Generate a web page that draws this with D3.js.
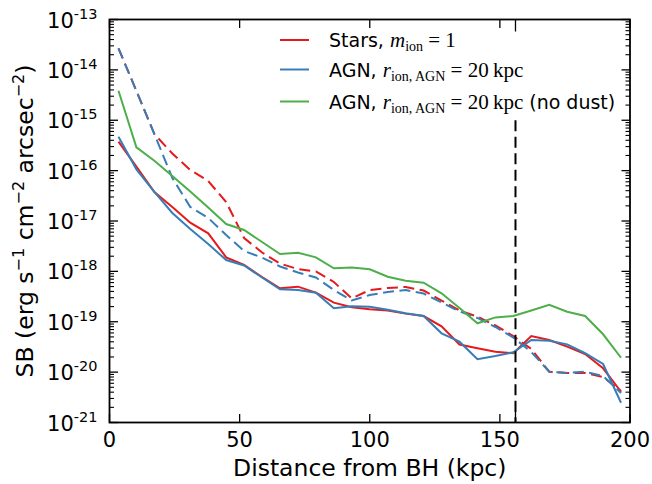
<!DOCTYPE html>
<html><head><meta charset="utf-8">
<script src="https://cdn.jsdelivr.net/npm/d3@7"></script>
<style>
html,body{margin:0;padding:0;background:#fff;}
svg text{font-family:"DejaVu Sans",sans-serif;fill:#000;}
.math{font-family:"Liberation Serif",serif;}
</style></head>
<body><svg id="chart" width="652" height="484"></svg>
<script>
// Distance from BH (kpc), bin centres
const distance = [3.45,10.34,17.24,24.14,31.03,37.93,44.83,51.72,58.62,65.52,72.41,79.31,86.21,93.10,100.00,106.90,113.79,120.69,127.59,134.48,141.38,148.28,155.17,162.07,168.97,175.86,182.76,189.66,196.55];
// SB (erg s^-1 cm^-2 arcsec^-2)
const starsSolid = [3.75e-16,1.20e-16,3.77e-17,1.90e-17,9.25e-18,5.70e-18,1.90e-18,1.34e-18,7.73e-19,4.61e-19,4.97e-19,3.78e-19,2.39e-19,1.94e-19,1.77e-19,1.67e-19,1.45e-19,1.30e-19,8.13e-20,3.53e-20,2.97e-20,2.54e-20,2.37e-20,5.21e-20,4.35e-20,3.20e-20,2.29e-20,1.19e-20,4.08e-21];
const starsDashed = [2.68e-14,3.81e-15,5.33e-16,2.19e-16,1.03e-16,6.22e-17,2.38e-17,4.60e-18,2.37e-18,1.43e-18,1.11e-18,9.95e-19,6.15e-19,2.90e-19,4.27e-19,4.68e-19,4.90e-19,4.17e-19,2.64e-19,1.67e-19,1.26e-19,8.43e-20,5.21e-20,2.88e-20,1.02e-20,9.62e-21,9.62e-21,8.00e-21,4.22e-21];
const agnSolid = [4.71e-16,1.06e-16,3.77e-17,1.44e-17,6.93e-18,3.49e-18,1.68e-18,1.31e-18,7.55e-19,4.41e-19,4.27e-19,3.78e-19,1.85e-19,2.03e-19,1.99e-19,1.73e-19,1.47e-19,1.30e-19,5.90e-20,4.02e-20,1.80e-20,2.09e-20,2.48e-20,4.35e-20,4.21e-20,3.56e-20,2.37e-20,1.45e-20,2.47e-21];
const agnDashed = [2.68e-14,3.81e-15,5.33e-16,7.14e-17,1.90e-17,1.15e-17,5.27e-18,2.54e-18,1.88e-18,1.25e-18,9.51e-19,7.55e-19,4.27e-19,2.64e-19,3.40e-19,3.90e-19,4.27e-19,3.64e-19,2.41e-19,1.60e-19,1.19e-19,7.87e-20,4.86e-20,2.51e-20,1.02e-20,9.62e-21,1.02e-20,8.38e-21,3.85e-21];
const agnNoDust = [3.86e-15,2.90e-16,1.57e-16,7.82e-17,3.85e-17,1.85e-17,8.71e-18,6.62e-18,3.83e-18,2.21e-18,2.35e-18,1.90e-18,1.15e-18,1.20e-18,1.10e-18,7.83e-19,6.53e-19,5.96e-19,3.67e-19,1.87e-19,9.31e-20,1.22e-19,1.30e-19,1.67e-19,2.18e-19,1.58e-19,1.30e-19,5.64e-20,1.93e-20];

const xTicks = [0,50,100,150,200];
const xTickLabels = ["0","50","100","150","200"];
const yExponents = [-13,-14,-15,-16,-17,-18,-19,-20,-21];
const markerDistance = 156;
const markerTop = 1e-15;

const colors = {red:"#e41a1c", blue:"#377eb8", green:"#4daf4a"};

const svg = d3.select("#chart");
const L = 109.5, R = 630, T = 19.5, B = 422.5;
const x = d3.scaleLinear().domain([0,200]).range([L,R]);
const y = d3.scaleLog().domain([1e-21,1e-13]).range([B,T]);

const line = d3.line().x((d,i)=>x(distance[i])).y(d=>y(d));
const dash = "11,5.5";
const series = [
  {data: starsSolid, color: colors.red, dash: null},
  {data: starsDashed, color: colors.red, dash: dash},
  {data: agnSolid, color: colors.blue, dash: null},
  {data: agnDashed, color: colors.blue, dash: dash},
  {data: agnNoDust, color: colors.green, dash: null}
];
const g = svg.append("g");
series.forEach(s => {
  g.append("path").attr("d", line(s.data)).attr("fill","none")
   .attr("stroke", s.color).attr("stroke-width", 2)
   .attr("stroke-dasharray", s.dash);
});
// vertical marker
g.append("line").attr("x1", x(markerDistance)).attr("x2", x(markerDistance))
 .attr("y1", y(markerTop)).attr("y2", B)
 .attr("stroke","#000").attr("stroke-width",2).attr("stroke-dasharray","11,5.5");

// axes frame and ticks
const ax = svg.append("g");
const tickStroke = 1.3;
// x ticks bottom & top (inward)
xTicks.forEach(v => {
  ax.append("line").attr("x1",x(v)).attr("x2",x(v)).attr("y1",B).attr("y2",B-8.5).attr("stroke","#000").attr("stroke-width",tickStroke);
  ax.append("line").attr("x1",x(v)).attr("x2",x(v)).attr("y1",T).attr("y2",T+8.5).attr("stroke","#000").attr("stroke-width",tickStroke);
});
ax.append("line").attr("x1",x(markerDistance)).attr("x2",x(markerDistance)).attr("y1",B).attr("y2",B-12).attr("stroke","#000").attr("stroke-width",tickStroke);
ax.append("line").attr("x1",x(markerDistance)).attr("x2",x(markerDistance)).attr("y1",T).attr("y2",T+12).attr("stroke","#000").attr("stroke-width",tickStroke);
// y ticks
yExponents.forEach(e => {
  const v = Math.pow(10,e);
  const yy = y(v);
  ax.append("line").attr("x1",L).attr("x2",L+8.5).attr("y1",yy).attr("y2",yy).attr("stroke","#000").attr("stroke-width",tickStroke);
  ax.append("line").attr("x1",R).attr("x2",R-8.5).attr("y1",yy).attr("y2",yy).attr("stroke","#000").attr("stroke-width",tickStroke);
  if (e > -21) {
    for (let m=2; m<=9; m++) {
      const ym = y(m*v/10* (e>-21?1:1));
    }
  }
});
// minor ticks
for (let e=-21; e<-13; e++) {
  for (let m=2;m<=9;m++) {
    const yy = y(m*Math.pow(10,e));
    ax.append("line").attr("x1",L).attr("x2",L+4.5).attr("y1",yy).attr("y2",yy).attr("stroke","#000").attr("stroke-width",1.1);
    ax.append("line").attr("x1",R).attr("x2",R-4.5).attr("y1",yy).attr("y2",yy).attr("stroke","#000").attr("stroke-width",1.1);
  }
}
ax.append("rect").attr("x",L).attr("y",T).attr("width",R-L).attr("height",B-T)
  .attr("fill","none").attr("stroke","#000").attr("stroke-width",1.8);

// x tick labels
xTicks.forEach((v,i)=>{
  svg.append("text").attr("x",x(v)).attr("y",446.5).attr("text-anchor","middle")
   .attr("font-size",21).text(xTickLabels[i]);
});
// y tick labels
yExponents.forEach(e=>{
  const yy = y(Math.pow(10,e));
  const t = svg.append("text").attr("x",L-12).attr("y",yy+8).attr("text-anchor","end").attr("font-size",21);
  t.append("tspan").text("10");
  t.append("tspan").attr("dy",-9).attr("font-size",14.5).text(String(e));
});
// axis labels
svg.append("text").attr("x",(L+R)/2).attr("y",476).attr("text-anchor","middle").attr("font-size",23.5).text("Distance from BH (kpc)");
const yl = svg.append("text").attr("transform",`translate(33,${(T+B)/2}) rotate(-90)`).attr("text-anchor","middle").attr("font-size",23.5);
yl.append("tspan").text("SB (erg s");
yl.append("tspan").attr("dy",-9).attr("font-size",16).text("\u22121");
yl.append("tspan").attr("dy",9).text(" cm");
yl.append("tspan").attr("dy",-9).attr("font-size",16).text("\u22122");
yl.append("tspan").attr("dy",9).text(" arcsec");
yl.append("tspan").attr("dy",-9).attr("font-size",16).text("\u22122");
yl.append("tspan").attr("dy",9).text(")");

// legend
const legend = [
  {color: colors.red, parts: [["Stars, ",null],["m","mi"],["ion","sub"],[" = 1","mr"]]},
  {color: colors.blue, parts: [["AGN, ",null],["r","mi"],["ion, AGN","sub"],[" = 20\u2009kpc","mr"]]},
  {color: colors.green, parts: [["AGN, ",null],["r","mi"],["ion, AGN","sub"],[" = 20\u2009kpc","mr"],[" (no dust)",null]]}
];
const legY = [40, 69.5, 101.5];
legend.forEach((item,k)=>{
  svg.append("line").attr("x1",280).attr("x2",309).attr("y1",legY[k]).attr("y2",legY[k]).attr("stroke",item.color).attr("stroke-width",2);
  const t = svg.append("text").attr("x",329).attr("y",legY[k]+7).attr("font-size",19);
  let sub = false;
  item.parts.forEach(([s,kind])=>{
    const ts = t.append("tspan").text(s);
    if (kind==="mi") ts.attr("class","math").attr("font-style","italic").attr("font-size",21);
    if (kind==="mr") ts.attr("class","math").attr("font-size",21);
    if (kind==="sub") { ts.attr("class","math").attr("font-size",14).attr("dy",4); sub=true; }
    else if (sub) { ts.attr("dy",-4); sub=false; }
  });
});
</script></body></html>
